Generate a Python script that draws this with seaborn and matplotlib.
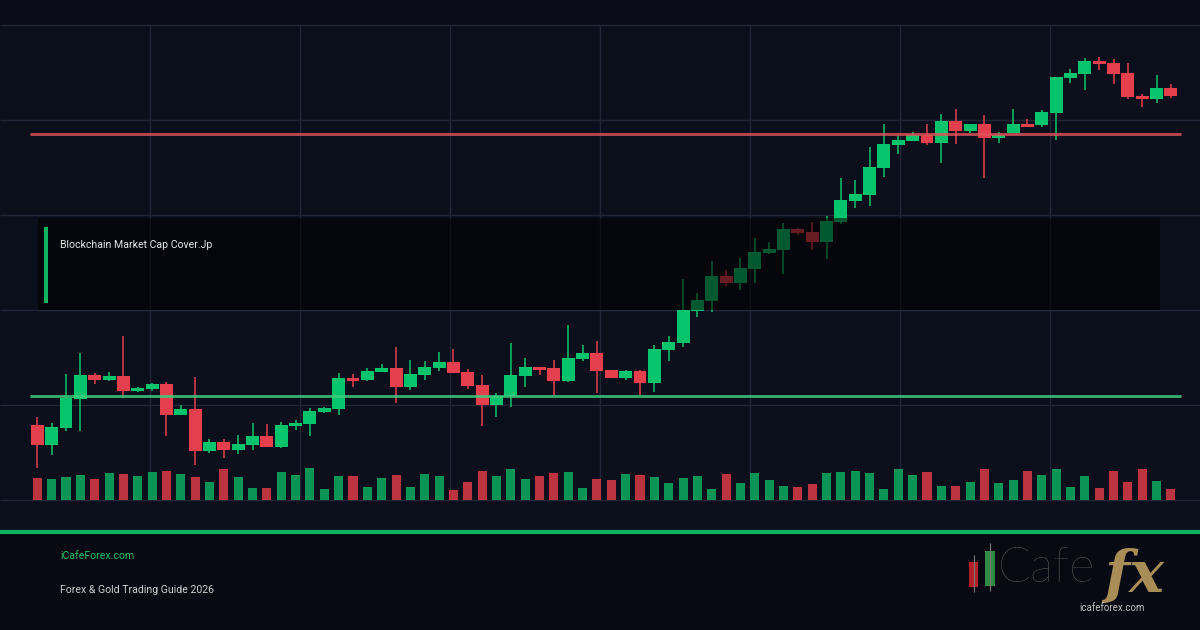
import numpy as np
import pandas as pd
import matplotlib
matplotlib.use("Agg")
import matplotlib.pyplot as plt
import seaborn as sns
from matplotlib.patches import Rectangle

# 1. 蜡烛图数据 (OHLC)
opens = [275, 255, 272, 301, 325, 320, 324, 309, 311, 316,
         285, 291, 249, 258, 250, 255, 264, 253, 274, 276,
         288, 291, 322, 320, 328, 332, 313, 325, 332, 338,
         328, 315, 295, 304, 324, 333, 332, 319, 341, 347,
         330, 322, 329, 317, 350, 357, 389, 399, 424, 417,
         431, 447, 450, 471, 468, 458, 478, 499, 505, 532,
         555, 559, 565, 557, 579, 569, 576, 562, 567, 576,
         575, 587, 622, 626, 639, 637, 627, 604, 601, 612]
highs = [283, 277, 326, 347, 327, 328, 364, 313, 317, 318,
         295, 323, 261, 261, 265, 277, 276, 278, 280, 292,
         293, 327, 326, 332, 336, 353, 340, 339, 348, 351,
         331, 325, 307, 357, 342, 333, 340, 375, 355, 359,
         330, 330, 330, 355, 364, 421, 407, 439, 430, 442,
         462, 458, 477, 472, 478, 484, 522, 520, 553, 576,
         564, 568, 576, 586, 591, 576, 585, 568, 591, 581,
         590, 623, 631, 642, 643, 641, 637, 606, 625, 616]
lows = [232, 245, 269, 269, 316, 319, 302, 308, 309, 264,
        285, 235, 247, 242, 246, 250, 253, 252, 270, 264,
        287, 285, 313, 319, 328, 297, 310, 320, 329, 327,
        311, 274, 283, 293, 313, 325, 305, 318, 339, 307,
        322, 320, 305, 308, 339, 353, 383, 388, 414, 410,
        417, 446, 426, 465, 450, 441, 476, 492, 494, 523,
        546, 559, 555, 537, 556, 567, 522, 557, 567, 573,
        573, 560, 617, 610, 630, 616, 601, 593, 597, 602]
closes = [255, 273, 302, 325, 320, 324, 309, 312, 316, 285,
          291, 249, 258, 250, 256, 264, 253, 275, 277, 289,
          292, 322, 319, 329, 332, 313, 326, 333, 338, 327,
          314, 295, 304, 325, 333, 330, 319, 342, 347, 329,
          322, 329, 317, 351, 358, 390, 400, 424, 417, 432,
          448, 451, 471, 467, 458, 479, 500, 506, 533, 556,
          560, 565, 557, 579, 569, 576, 562, 565, 576, 573,
          588, 623, 627, 639, 636, 626, 603, 601, 612, 604]
volumes = [22, 21, 23, 25, 21, 27, 26, 24, 28, 29,
           26, 23, 18, 31, 23, 12, 12, 28, 25, 32,
           11, 24, 24, 13, 22, 25, 13, 26, 24, 10,
           18, 29, 24, 31, 21, 24, 27, 28, 12, 21,
           20, 26, 25, 23, 17, 22, 24, 11, 26, 17,
           27, 20, 14, 13, 16, 27, 28, 29, 27, 11,
           31, 25, 28, 14, 14, 18, 31, 17, 20, 29,
           25, 31, 13, 24, 12, 29, 18, 31, 19, 11]

# 阻力位 / 支撑位
resistance = 566
support = 304

title_text = "Blockchain Market Cap Cover.Jp"
site_text = "iCafeForex.com"
guide_text = "Forex & Gold Trading Guide 2026"
logo_word = "Cafe"
logo_fx = "fx"
logo_url = "icafeforex.com"

# 颜色
BG = "#0b0f1c"
TOP_BAND = "#090c17"
FOOT_BG = "#070a12"
GRID = "#222737"
GREEN = "#05c46b"
RED = "#e33f4d"
VOL_GREEN = "#0a9455"
VOL_RED = "#bd3441"
ACCENT = "#10b361"
RES_COLOR = "#e0525c"
SUP_COLOR = "#3ccf7f"

sns.set_theme(style="dark")
plt.rcParams['font.family'] = ['Roboto', 'DejaVu Sans']

W, H = 1200, 630
fig = plt.figure(figsize=(12, 6.3), dpi=100, facecolor=BG)

# 背景层: 网格
bg = fig.add_axes([0, 0, 1, 1])
bg.set_xlim(0, W)
bg.set_ylim(H, 0)
bg.axis('off')
bg.add_patch(Rectangle((0, 0), W, 25, color=TOP_BAND, lw=0))
bg.add_patch(Rectangle((0, 533), W, H - 533, color=FOOT_BG, lw=0))
bg.hlines(np.arange(25, 501, 95), 0, W, color=GRID, lw=1)
bg.vlines(np.arange(150, 1200, 150), 25, 500, color=GRID, lw=1)

# 2. K线
n = len(opens)
idx = np.arange(n)
o = np.array(opens)
c = np.array(closes)
up = c >= o
colors = np.where(up, GREEN, RED)
step, x0 = 14.35, 37.3
xlim = (-x0 / step, (W - x0) / step)

ax = fig.add_axes([0, 130 / H, 1, 475 / H])
ax.set_xlim(xlim)
ax.set_ylim(200, 675)
ax.axis('off')
ax.vlines(idx, lows, highs, colors=colors, lw=1.1, zorder=2)
ax.bar(idx, np.abs(c - o), bottom=np.minimum(o, c), width=0.9,
       color=colors, lw=0, zorder=3)
ax.hlines(resistance, -0.5, n - 0.3, color=RES_COLOR, lw=2, alpha=0.85, zorder=4)
ax.hlines(support, -0.5, n - 0.3, color=SUP_COLOR, lw=2, alpha=0.85, zorder=4)

# 3. 成交量
vax = fig.add_axes([0, 130 / H, 1, 40 / H])
df = pd.DataFrame({'idx': idx, 'volume': volumes,
                   'dir': np.where(up, 'up', 'down')})
sns.barplot(data=df, x='idx', y='volume', hue='dir',
            palette={'up': VOL_GREEN, 'down': VOL_RED},
            native_scale=True, dodge=False, width=0.63, saturation=1,
            errorbar=None, legend=False, linewidth=0, edgecolor='none', ax=vax)
vax.set_xlim(xlim)
vax.set_ylim(0, 40)
vax.axis('off')

# 4. 覆盖层: 标题框 + 页脚 + logo
top = fig.add_axes([0, 0, 1, 1])
top.set_xlim(0, W)
top.set_ylim(H, 0)
top.axis('off')
top.add_patch(Rectangle((38, 218), 1122, 92, color='#000000', alpha=0.55, lw=0))
top.add_patch(Rectangle((44, 227), 3.5, 76, color=ACCENT, lw=0))
top.text(60, 245, title_text, color='#e6e6e6', fontsize=7.6, va='center')

top.hlines(531.5, 0, W, color=ACCENT, lw=3)
top.text(60, 556, site_text, color='#22c16b', fontsize=7.6, va='center')
top.text(60, 590, guide_text, color='#d0d0d0', fontsize=7.6, va='center')

top.vlines(973.5, 555, 592, color='#7a7a7a', lw=0.8)
top.add_patch(Rectangle((969, 562), 9, 25, color='#b3202a', lw=0))
top.vlines(990, 543, 591, color='#7a7a7a', lw=0.8)
top.add_patch(Rectangle((985, 551), 10, 35, color='#2f8a44', lw=0))
top.text(998, 569, logo_word, color='#5e5e5e', fontsize=35, va='center',
         family=['Lato', 'DejaVu Sans'], fontweight='light')
top.text(1104, 576, logo_fx, color='#a98d57', fontsize=42, va='center',
         family=['DejaVu Serif'], style='italic', fontweight='bold')
top.text(1112, 608, logo_url, color='#c0c0c0', fontsize=7, ha='center', va='center')

fig.savefig('out.png', dpi=100, facecolor=fig.get_facecolor())
